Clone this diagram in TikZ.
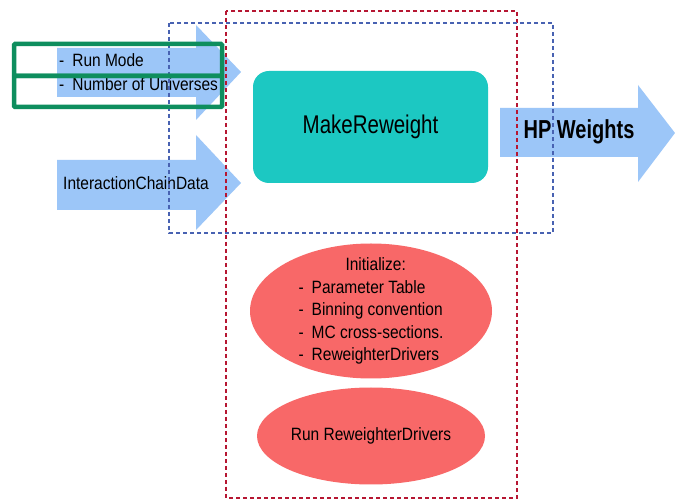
\documentclass[tikz,border=0pt]{standalone}
\usepackage{graphicx}
\usepackage{fontspec}
\setmainfont{Liberation Sans}
\usetikzlibrary{calc,backgrounds,shapes.geometric}
\definecolor{bleuclair}{RGB}{156,198,248}
\definecolor{turquoise}{RGB}{28,200,194}
\definecolor{saumon}{RGB}{248,104,104}
\definecolor{bleutiret}{RGB}{72,98,178}
\definecolor{rougetiret}{RGB}{182,22,50}
\definecolor{vertcadre}{RGB}{14,142,94}
\newcommand{\etire}[2][1.15]{\scalebox{1}[#1]{#2}}

\begin{document}
\begin{tikzpicture}[%
        x=1pt,y=-1pt,%
        show background rectangle,%
        tight background,%
        background rectangle/.style={fill=white}%
    ]
%
% Styles
%
\tikzset{every node/.style={font=\fontsize{15.5}{22.5}\selectfont, inner sep=0pt}};%
\tikzset{grosse fleche/.style={fill=bleuclair}};%
\tikzset{cadre bleu/.style={bleutiret, line width=1.4pt, dash pattern=on 4pt off 3pt}};%
\tikzset{cadre rouge/.style={rougetiret, line width=1.6pt, dash pattern=on 4pt off 3pt}};%
\tikzset{cadre vert/.style={vertcadre, line width=4.5pt, rounded corners=1pt}};%
\tikzset{bloc/.style={fill=turquoise, rounded corners=16pt}};%
\tikzset{bulle/.style={ellipse, fill=saumon, align=left, inner xsep=0pt, inner ysep=-30pt}};%

%
% Macros
%
\pgfmathsetmacro{\xcorps}{57};%
\pgfmathsetmacro{\xtete}{196};%
\pgfmathsetmacro{\xpointe}{241};%

\useasboundingbox (0,0) rectangle (675,502);%

%
% Input arrows
%
\fill[grosse fleche] (\xcorps,48) -- (\xtete,48) -- (\xtete,25) -- (\xpointe,72)
    -- (\xtete,120) -- (\xtete,97) -- (\xcorps,97) -- cycle;%
\fill[grosse fleche] (\xcorps,160) -- (\xtete,160) -- (\xtete,135) -- (\xpointe,183)
    -- (\xtete,230) -- (\xtete,210) -- (\xcorps,210) -- cycle;%
\node[anchor=base west] (mode) at (59,67) {\etire{-\hspace{8pt}Run Mode}};%
\node[anchor=base west] (univers) at (59,91) {\etire{-\hspace{8pt}Number of Universes}};%
\node[anchor=base west] (chaine) at (63,190) {\etire{InteractionChainData}};%

%
% Output arrow
%
\fill[grosse fleche] (500,108) -- (638,108) -- (638,85) -- (675,133)
    -- (638,182) -- (638,157) -- (500,157) -- cycle;%
\node[font=\fontsize{20}{24}\selectfont\bfseries] (poids) at (579,132) {\etire[1.3]{HP Weights}};%

%
% Blocks
%
\fill[bloc] (253,71) rectangle (488,183);%
\node[font=\fontsize{20.5}{24}\selectfont] (make) at (370.5,127) {\etire[1.25]{MakeReweight}};%
\node[bulle, minimum width=242pt, minimum height=135pt] (init) at (371,311)
    {\hspace{47pt}\etire{Initialize:}\\
     \etire{-\hspace{8pt}Parameter Table}\\
     \etire{-\hspace{8pt}Binning convention}\\
     \etire{-\hspace{8pt}MC cross-sections.}\hspace{12pt}\\
     \etire{-\hspace{8pt}ReweighterDrivers}};%
\node[bulle, minimum width=228pt, minimum height=97pt] (run) at (371,436)
    {\etire{Run ReweighterDrivers}};%

%
% Dashed frames
%
\draw[cadre rouge] (226,11) rectangle (517,498);%
\draw[cadre bleu] (169,23) rectangle (553,233);%

% The green frames
\draw[cadre vert] (14,44) rectangle (222,76);%
\draw[cadre vert] (14,76) rectangle (222,107);%
\end{tikzpicture}
\end{document}
